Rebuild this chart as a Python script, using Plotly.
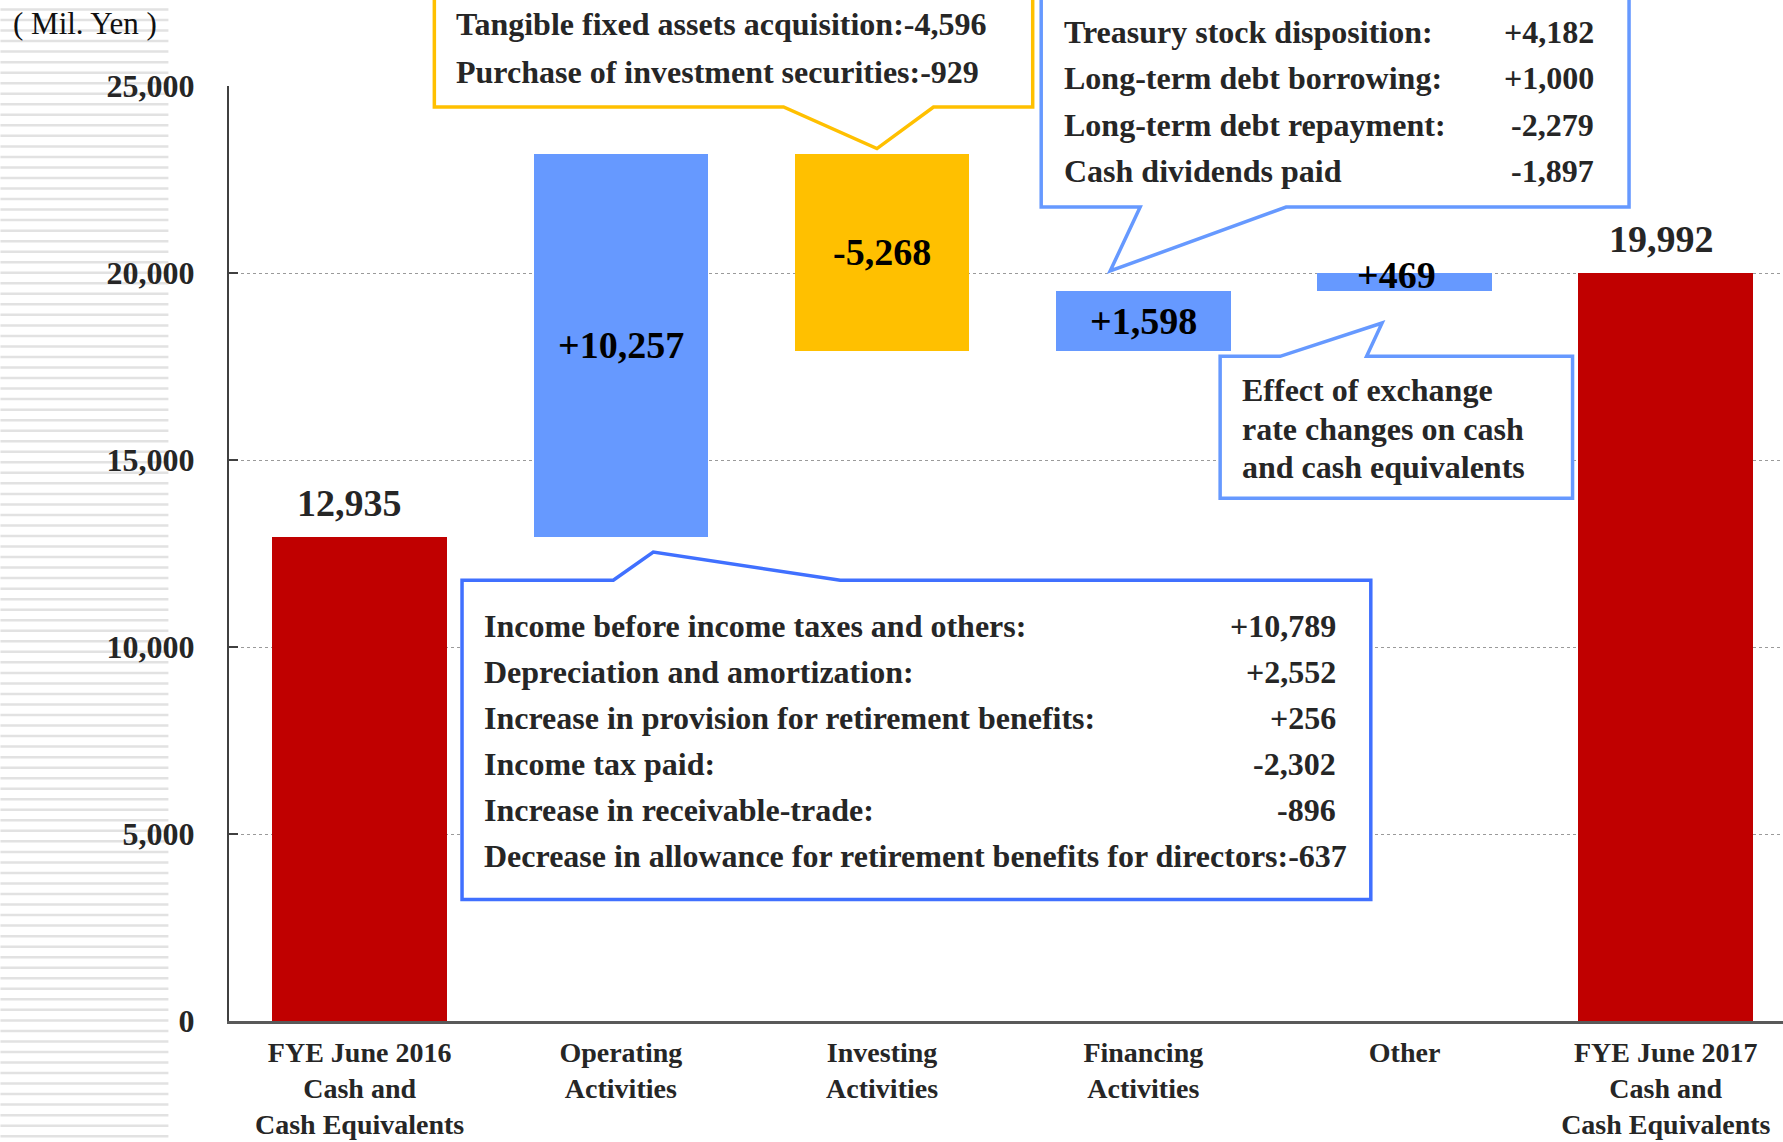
import plotly.graph_objects as go

# Cash flow bridge FYE June 2016 -> FYE June 2017 (Mil. Yen)
categories = [
    "FYE June 2016<br>Cash and<br>Cash Equivalents",
    "Operating<br>Activities",
    "Investing<br>Activities",
    "Financing<br>Activities",
    "Other",
    "FYE June 2017<br>Cash and<br>Cash Equivalents",
]
kinds = ["total", "up", "down", "up", "up", "total"]
values = [12935, 10257, -5268, 1598, 469, 19992]
value_labels = ["12,935", "+10,257", "-5,268", "+1,598", "+469", "19,992"]

y_ticks = [0, 5000, 10000, 15000, 20000, 25000]

operating_items = [
    "Income before income taxes and others:",
    "Depreciation and amortization:",
    "Increase in provision for retirement benefits:",
    "Income tax paid:",
    "Increase in receivable-trade:",
    "Decrease in allowance for retirement benefits for directors:-637",
]
operating_amounts = ["+10,789", "+2,552", "+256", "-2,302", "-896", ""]

investing_items = [
    "Tangible fixed assets acquisition:-4,596",
    "Purchase of investment securities:-929",
]

financing_items = [
    "Treasury stock disposition:",
    "Long-term debt borrowing:",
    "Long-term debt repayment:",
    "Cash dividends paid",
]
financing_amounts = ["+4,182", "+1,000", "-2,279", "-1,897"]

other_note = ["Effect of exchange", "rate changes on cash", "and cash equivalents"]

unit_label = "( Mil. Yen )"

# bars float on the running total
bases = []
running = 0
for k, v in zip(kinds, values):
    if k == "total":
        bases.append(0)
        running = v
    else:
        bases.append(running)
        running += v

colors = {"total": "#C00000", "up": "#6699FF", "down": "#FFC000"}
bar_colors = [colors[k] for k in kinds]

FONT = "Liberation Serif"
TXT = "#262626"

# page geometry (pixels) -> paper coords
W, H = 1783, 1142
L, T, B = 228.6, 85.7, 1020.7
STEP = 261.3


def fx(p):
    return (p - L) / (W - L)


def fy(p):
    return (B - p) / (B - T)


def path(points, close=True):
    s = "M " + " L ".join(f"{fx(x):.5f},{fy(y):.5f}" for x, y in points)
    return s + (" Z" if close else "")


fig = go.Figure()
fig.add_trace(go.Bar(
    x=categories, y=values, base=bases,
    marker=dict(color=bar_colors, line=dict(width=0)),
    width=0.6686, hoverinfo="skip", showlegend=False,
))

shapes = []

# decorative striped band on the left
seg = []
yy = 9.2
while yy < H:
    seg.append(f"M {fx(0):.5f},{fy(yy):.5f} L {fx(168):.5f},{fy(yy):.5f}")
    yy += 10.53
shapes.append(dict(type="path", path=" ".join(seg), xref="paper", yref="paper",
                   line=dict(color="#e2e2e2", width=2.5), layer="below"))

# callout boxes
shapes.append(dict(  # investing
    type="path", xref="paper", yref="paper", layer="above",
    path=path([(434, -10), (434, 106.7), (783.3, 106.7), (876.7, 148.3),
               (933.3, 106.7), (1032.5, 106.7), (1032.5, -10)]),
    fillcolor="white", line=dict(color="#FFC000", width=3.5)))
shapes.append(dict(  # financing
    type="path", xref="paper", yref="paper", layer="above",
    path=path([(1041, -10), (1041, 206.7), (1140, 206.7), (1110, 270.7),
               (1286, 206.7), (1629, 206.7), (1629, -10)]),
    fillcolor="white", line=dict(color="#6699FF", width=3.5)))
shapes.append(dict(  # other
    type="path", xref="paper", yref="paper", layer="above",
    path=path([(1220, 356), (1280, 356), (1382, 322.7), (1366.5, 356),
               (1572.5, 356), (1572.5, 498), (1220, 498)]),
    fillcolor="white", line=dict(color="#6699FF", width=3.5)))
shapes.append(dict(  # operating
    type="path", xref="paper", yref="paper", layer="above",
    path=path([(461.7, 580), (613, 580), (653, 551.7), (840, 580),
               (1370.7, 580), (1370.7, 899.3), (461.7, 899.3)]),
    fillcolor="white", line=dict(color="#4070FF", width=3.5)))

annotations = []


def note(text, x, y, anchor="left", size=32, bold=True, color=TXT):
    annotations.append(dict(
        text=text, x=fx(x), y=fy(y), xref="paper", yref="paper",
        xanchor=anchor, yanchor="middle", showarrow=False,
        font=dict(family=FONT, size=size, color=color,
                  weight="bold" if bold else "normal")))


note(unit_label, 85, 23, anchor="center", size=31, bold=False, color="#111111")

for i, t in enumerate(investing_items):
    note(t, 453.3, 24 + i * 47.7)

for i, (t, a) in enumerate(zip(financing_items, financing_amounts)):
    note(t, 1061.5, 32 + i * 46.2)
    note(a, 1596, 32 + i * 46.2, anchor="right")

for i, t in enumerate(other_note):
    note(t, 1240, 390 + i * 38.5)

for i, (t, a) in enumerate(zip(operating_items, operating_amounts)):
    note(t, 481.7, 626 + i * 46)
    if a:
        note(a, 1338, 626 + i * 46, anchor="right")

# bar value labels
for i, (k, v, b, lab) in enumerate(zip(kinds, values, bases, value_labels)):
    if k == "total":
        y, ys, xs, col = b + v, 34, (-10 if i == 0 else -4), TXT
    elif abs(v) < 1000:
        y, ys, xs, col = b + v, -2, -8, "black"
    else:
        y, ys, xs, col = b + v / 2, 0, 0, "black"
    annotations.append(dict(
        text=lab, x=categories[i], y=y, xref="x", yref="y",
        xanchor="center", yanchor="middle", yshift=ys, xshift=xs,
        showarrow=False,
        font=dict(family=FONT, size=38, color=col, weight="bold")))

fig.update_layout(
    width=W, height=H,
    margin=dict(l=L, r=0, t=T, b=H - B, pad=0),
    paper_bgcolor="white", plot_bgcolor="white",
    template="none",
    bargap=0, showlegend=False,
    shapes=shapes, annotations=annotations,
)

fig.update_xaxes(
    type="category", range=[-0.5, (W - L) / STEP - 0.5],
    showline=True, linecolor="#595959", linewidth=3,
    showgrid=False, zeroline=False, ticks="",
    ticklabelstandoff=4,
    tickfont=dict(family=FONT, size=28, color=TXT, weight="bold"),
)
fig.update_yaxes(
    range=[0, 25000], tickvals=y_ticks, tickformat=",",
    showline=True, linecolor="#404040", linewidth=2,
    ticks="inside", ticklen=9, tickwidth=2, tickcolor="#404040",
    showgrid=True, gridcolor="#9a9a9a", gridwidth=1, griddash="dot",
    zeroline=False, ticklabelstandoff=26,
    tickfont=dict(family=FONT, size=32, color=TXT, weight="bold"),
)

# drop the default page margin so the figure sits at the window origin
fig.write_html("out.html", config={"displayModeBar": False},
               post_script="document.body.style.margin='0';")
